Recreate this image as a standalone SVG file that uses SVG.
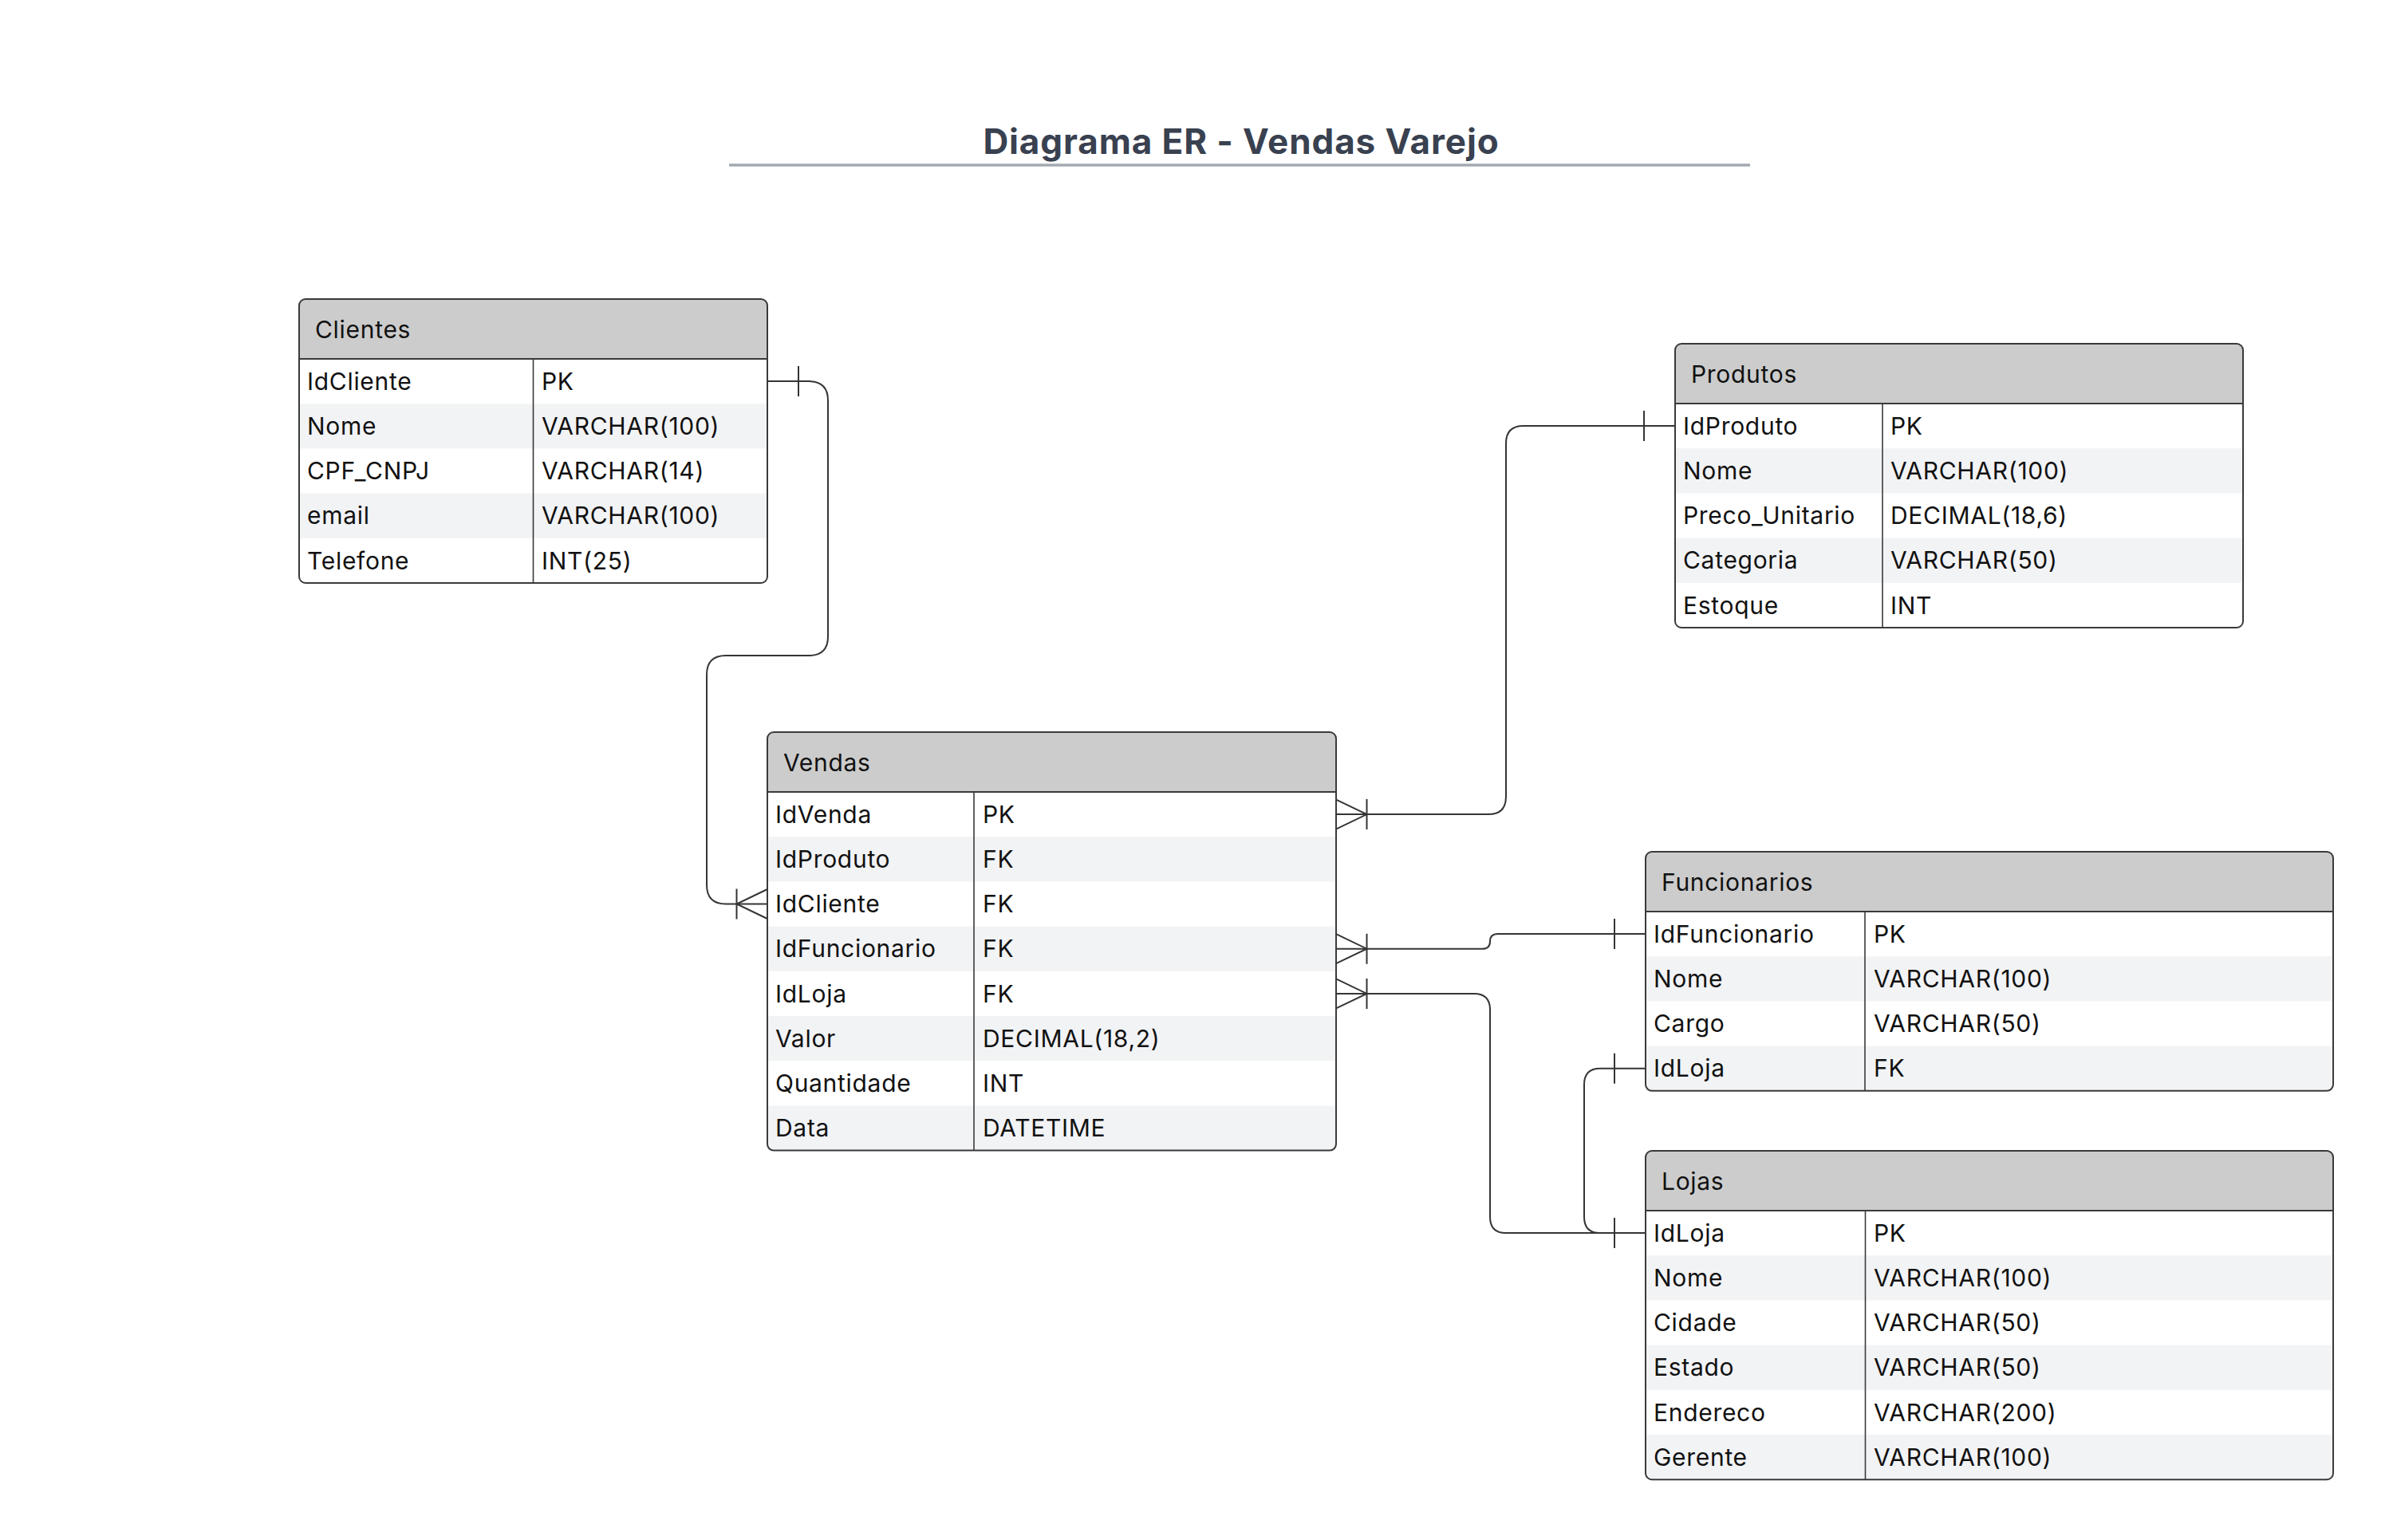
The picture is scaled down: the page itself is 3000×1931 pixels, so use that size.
<svg xmlns="http://www.w3.org/2000/svg" width="3000" height="1931" viewBox="0 0 3000 1931">
<style>
  .bg { fill: #ffffff; }
  .title { font-family: Inter, "Liberation Sans", sans-serif; font-size: 44px; font-weight: 700; fill: #394150; letter-spacing: 0.9px; }
  .uline { stroke: #a4aab2; stroke-width: 3.5; }
  .hdr { fill: #cccccc; }
  .stripe { fill: #f2f3f5; }
  .frame { fill: none; stroke: #3a3a3a; stroke-width: 2; }
  .sep { stroke: #3a3a3a; stroke-width: 2; }
  .div { stroke: #3a3a3a; stroke-width: 1.6; }
  .t { font-family: Inter, "Liberation Sans", sans-serif; font-size: 30px; fill: #111111; letter-spacing: 0.7px; }
  .conn { fill: none; stroke: #353535; stroke-width: 2; marker-end: url(#one); }
  .many { marker-start: url(#many); }
  .onestart { marker-start: url(#one); }
  .manyend { marker-end: url(#many); }
  .mk { fill: none; stroke: #353535; stroke-width: 2; }
</style>
<defs>
  <marker id="one" markerUnits="userSpaceOnUse" orient="auto-start-reverse" refX="0" refY="0" markerWidth="100" markerHeight="100" viewBox="-50 -50 100 100" overflow="visible">
    <path class="mk" d="M -39 -19 V 19"/>
  </marker>
  <marker id="many" markerUnits="userSpaceOnUse" orient="auto-start-reverse" refX="0" refY="0" markerWidth="100" markerHeight="100" viewBox="-50 -50 100 100" overflow="visible">
    <path class="mk" d="M 0 -18.5 L -38.5 0 L 0 18.5 M -38.5 -19 V 19"/>
  </marker>
  <clipPath id="cClientes"><rect x="375" y="375" width="587" height="356" rx="8"/></clipPath>
  <clipPath id="cProdutos"><rect x="2100" y="431" width="712" height="356" rx="8"/></clipPath>
  <clipPath id="cVendas"><rect x="962" y="918" width="713" height="524.6" rx="8"/></clipPath>
  <clipPath id="cFuncionarios"><rect x="2063" y="1068" width="862" height="299.8" rx="8"/></clipPath>
  <clipPath id="cLojas"><rect x="2063" y="1443" width="862" height="412.2" rx="8"/></clipPath>
</defs>
<rect class="bg" x="0" y="0" width="3000" height="1931"/>

<g id="title">
  <text class="title" x="1556" y="193" text-anchor="middle">Diagrama ER - Vendas Varejo</text>
  <line class="uline" x1="914" y1="207" x2="2194" y2="207"/>
</g>

<g id="connectors">
  <path class="conn onestart manyend" d="M 962 478.1 H 1014 Q 1038 478.1 1038 502 V 798 Q 1038 822 1014 822 H 910 Q 886 822 886 846 V 1109.5 Q 886 1133.5 910 1133.5 H 962"/>
  <path class="conn many" d="M 1675 1021.1 H 1866 Q 1888 1021.1 1888 999 V 556 Q 1888 534.1 1910 534.1 H 2100"/>
  <path class="conn many" d="M 1675 1189.7 H 1858 Q 1868 1189.7 1868 1180.4 Q 1868 1171.1 1878 1171.1 H 2063"/>
  <path class="conn many" d="M 1675 1245.9 H 1848 Q 1868 1245.9 1868 1266 V 1526 Q 1868 1546.1 1888 1546.1 H 2063"/>
  <path class="conn onestart" d="M 2063 1339.7 H 2006 Q 1986 1339.7 1986 1360 V 1526 Q 1986 1546.1 2006 1546.1 H 2063"/>
</g>

<g id="Clientes">
  <g clip-path="url(#cClientes)">
    <rect x="375" y="375" width="587" height="356" fill="#ffffff"/>
    <rect class="hdr" x="375" y="375" width="587" height="75"/>
    <rect class="stripe" x="375" y="506.2" width="587" height="56.2"/>
    <rect class="stripe" x="375" y="618.6" width="587" height="56.2"/>
  </g>
  <line class="sep" x1="375" y1="450" x2="962" y2="450"/>
  <line class="div" x1="668.5" y1="450" x2="668.5" y2="731"/>
  <rect class="frame" x="375" y="375" width="587" height="356" rx="8"/>
  <text class="t" x="395" y="424">Clientes</text>
  <text class="t" x="385" y="488.8">IdCliente</text><text class="t" x="679" y="488.8">PK</text>
  <text class="t" x="385" y="545">Nome</text><text class="t" x="679" y="545">VARCHAR(100)</text>
  <text class="t" x="385" y="601.2">CPF_CNPJ</text><text class="t" x="679" y="601.2">VARCHAR(14)</text>
  <text class="t" x="385" y="657.4">email</text><text class="t" x="679" y="657.4">VARCHAR(100)</text>
  <text class="t" x="385" y="713.6">Telefone</text><text class="t" x="679" y="713.6">INT(25)</text>
</g>

<g id="Produtos">
  <g clip-path="url(#cProdutos)">
    <rect x="2100" y="431" width="712" height="356" fill="#ffffff"/>
    <rect class="hdr" x="2100" y="431" width="712" height="75"/>
    <rect class="stripe" x="2100" y="562.2" width="712" height="56.2"/>
    <rect class="stripe" x="2100" y="674.6" width="712" height="56.2"/>
  </g>
  <line class="sep" x1="2100" y1="506" x2="2812" y2="506"/>
  <line class="div" x1="2360" y1="506" x2="2360" y2="787"/>
  <rect class="frame" x="2100" y="431" width="712" height="356" rx="8"/>
  <text class="t" x="2120" y="480">Produtos</text>
  <text class="t" x="2110" y="544.8">IdProduto</text><text class="t" x="2370" y="544.8">PK</text>
  <text class="t" x="2110" y="601">Nome</text><text class="t" x="2370" y="601">VARCHAR(100)</text>
  <text class="t" x="2110" y="657.2">Preco_Unitario</text><text class="t" x="2370" y="657.2">DECIMAL(18,6)</text>
  <text class="t" x="2110" y="713.4">Categoria</text><text class="t" x="2370" y="713.4">VARCHAR(50)</text>
  <text class="t" x="2110" y="769.6">Estoque</text><text class="t" x="2370" y="769.6">INT</text>
</g>

<g id="Vendas">
  <g clip-path="url(#cVendas)">
    <rect x="962" y="918" width="713" height="524.6" fill="#ffffff"/>
    <rect class="hdr" x="962" y="918" width="713" height="75"/>
    <rect class="stripe" x="962" y="1049.2" width="713" height="56.2"/>
    <rect class="stripe" x="962" y="1161.6" width="713" height="56.2"/>
    <rect class="stripe" x="962" y="1274" width="713" height="56.2"/>
    <rect class="stripe" x="962" y="1386.4" width="713" height="56.2"/>
  </g>
  <line class="sep" x1="962" y1="993" x2="1675" y2="993"/>
  <line class="div" x1="1221" y1="993" x2="1221" y2="1442.6"/>
  <rect class="frame" x="962" y="918" width="713" height="524.6" rx="8"/>
  <text class="t" x="982" y="967">Vendas</text>
  <text class="t" x="972" y="1031.8">IdVenda</text><text class="t" x="1232" y="1031.8">PK</text>
  <text class="t" x="972" y="1088">IdProduto</text><text class="t" x="1232" y="1088">FK</text>
  <text class="t" x="972" y="1144.2">IdCliente</text><text class="t" x="1232" y="1144.2">FK</text>
  <text class="t" x="972" y="1200.4">IdFuncionario</text><text class="t" x="1232" y="1200.4">FK</text>
  <text class="t" x="972" y="1256.6">IdLoja</text><text class="t" x="1232" y="1256.6">FK</text>
  <text class="t" x="972" y="1312.8">Valor</text><text class="t" x="1232" y="1312.8">DECIMAL(18,2)</text>
  <text class="t" x="972" y="1369">Quantidade</text><text class="t" x="1232" y="1369">INT</text>
  <text class="t" x="972" y="1425.2">Data</text><text class="t" x="1232" y="1425.2">DATETIME</text>
</g>

<g id="Funcionarios">
  <g clip-path="url(#cFuncionarios)">
    <rect x="2063" y="1068" width="862" height="299.8" fill="#ffffff"/>
    <rect class="hdr" x="2063" y="1068" width="862" height="75"/>
    <rect class="stripe" x="2063" y="1199.2" width="862" height="56.2"/>
    <rect class="stripe" x="2063" y="1311.6" width="862" height="56.2"/>
  </g>
  <line class="sep" x1="2063" y1="1143" x2="2925" y2="1143"/>
  <line class="div" x1="2338" y1="1143" x2="2338" y2="1367.8"/>
  <rect class="frame" x="2063" y="1068" width="862" height="299.8" rx="8"/>
  <text class="t" x="2083" y="1117">Funcionarios</text>
  <text class="t" x="2073" y="1181.8">IdFuncionario</text><text class="t" x="2349" y="1181.8">PK</text>
  <text class="t" x="2073" y="1238">Nome</text><text class="t" x="2349" y="1238">VARCHAR(100)</text>
  <text class="t" x="2073" y="1294.2">Cargo</text><text class="t" x="2349" y="1294.2">VARCHAR(50)</text>
  <text class="t" x="2073" y="1350.4">IdLoja</text><text class="t" x="2349" y="1350.4">FK</text>
</g>

<g id="Lojas">
  <g clip-path="url(#cLojas)">
    <rect x="2063" y="1443" width="862" height="412.2" fill="#ffffff"/>
    <rect class="hdr" x="2063" y="1443" width="862" height="75"/>
    <rect class="stripe" x="2063" y="1574.2" width="862" height="56.2"/>
    <rect class="stripe" x="2063" y="1686.6" width="862" height="56.2"/>
    <rect class="stripe" x="2063" y="1799" width="862" height="56.2"/>
  </g>
  <line class="sep" x1="2063" y1="1518" x2="2925" y2="1518"/>
  <line class="div" x1="2338.5" y1="1518" x2="2338.5" y2="1855.2"/>
  <rect class="frame" x="2063" y="1443" width="862" height="412.2" rx="8"/>
  <text class="t" x="2083" y="1492">Lojas</text>
  <text class="t" x="2073" y="1556.8">IdLoja</text><text class="t" x="2349" y="1556.8">PK</text>
  <text class="t" x="2073" y="1613">Nome</text><text class="t" x="2349" y="1613">VARCHAR(100)</text>
  <text class="t" x="2073" y="1669.2">Cidade</text><text class="t" x="2349" y="1669.2">VARCHAR(50)</text>
  <text class="t" x="2073" y="1725.4">Estado</text><text class="t" x="2349" y="1725.4">VARCHAR(50)</text>
  <text class="t" x="2073" y="1781.6">Endereco</text><text class="t" x="2349" y="1781.6">VARCHAR(200)</text>
  <text class="t" x="2073" y="1837.8">Gerente</text><text class="t" x="2349" y="1837.8">VARCHAR(100)</text>
</g>
</svg>
